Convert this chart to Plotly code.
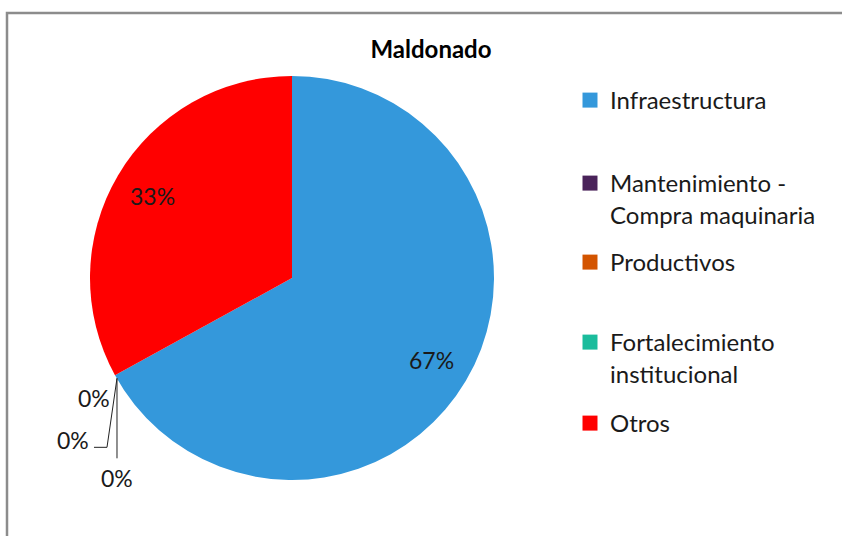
import math
import plotly.graph_objects as go

# --- datos del gráfico ---
TITULO = "Maldonado"
categorias = ["Infraestructura", "Mantenimiento -<br>Compra maquinaria", "Productivos",
              "Fortalecimiento<br>institucional", "Otros"]
valores = [67, 0, 0, 0, 33]  # porcentaje
colores = ["#3498DB", "#4A235A", "#D35400", "#1ABC9C", "#FF0000"]

W, H = 842, 536
CX, CY, R = 292, 278, 202   # centro y radio del pastel en píxeles
FUENTE = "Lato"
COLOR_TEXTO = "#1a1a1a"
# posición (px) de la primera línea de cada entrada de la leyenda, como en Excel
LEYENDA_Y = [100, 183, 262, 342, 423]

total = sum(valores)


def px(x, y):
    """píxel -> coordenadas paper"""
    return x / W, 1 - y / H


def punto(frac, t):
    """punto sobre el pastel para una fracción acumulada y un radio relativo"""
    a = 2 * math.pi * frac
    return CX + t * R * math.sin(a), CY - t * R * math.cos(a)


fig = go.Figure()
fig.add_trace(go.Pie(
    labels=[c.replace("<br>", " ") for c in categorias],
    values=valores,
    textinfo="none",
    marker=dict(colors=colores, line=dict(width=0)),
    sort=False,
    direction="clockwise",
    rotation=0,
    showlegend=False,
    hovertemplate="%{label}: %{value}%<extra></extra>",
    domain=dict(x=[(CX - R) / W, (CX + R) / W], y=[(H - CY - R) / H, (H - CY + R) / H]),
))

# leyenda: una entrada por categoría, cada una en su propia leyenda para fijar su altura
leyendas = {}
for i, (c, col, ly) in enumerate(zip(categorias, colores, LEYENDA_Y)):
    nombre = "legend" if i == 0 else f"legend{i + 1}"
    fig.add_trace(go.Scatter(
        x=[None], y=[None], mode="markers", name=c,
        marker=dict(symbol="square", size=15, color=col),
        legend=nombre, hoverinfo="skip",
    ))
    leyendas[nombre] = dict(
        x=570 / W, y=px(0, ly - 22)[1], xanchor="left", yanchor="top",
        valign="top", font=dict(family=FUENTE, size=24, color=COLOR_TEXTO),
        bgcolor="rgba(0,0,0,0)",
    )

annotations = []
# etiquetas de porcentaje dentro de cada porción
acum = 0
for v in valores:
    if v:
        x, y = punto((acum + v / 2) / total, 0.8)
        xp, yp = px(x, y)
        annotations.append(dict(
            text=f"{round(v / total * 100)}%", x=xp, y=yp, xref="paper", yref="paper",
            xanchor="center", yanchor="middle", showarrow=False,
            font=dict(family=FUENTE, size=23, color=COLOR_TEXTO),
        ))
    acum += v

# etiquetas de 0% en el borde entre Infraestructura y Otros
ex, ey = punto(sum(valores[:4]) / total, 1.0)
ceros = [v for v in valores if v == 0]
pos_ceros = [(ex - 3, ey + 23, "right"), (ex - 24, ey + 65, "right"), (ex + 2, ey + 103, "center")]
for v, (x, y, anc) in zip(ceros, pos_ceros):
    xp, yp = px(x, y)
    annotations.append(dict(
        text=f"{v}%", x=xp, y=yp, xref="paper", yref="paper",
        xanchor=anc, yanchor="middle", showarrow=False,
        font=dict(family=FUENTE, size=23, color=COLOR_TEXTO),
    ))

shapes = [
    # marco del área del gráfico
    dict(type="rect", xref="paper", yref="paper",
         x0=7 / W, x1=1.02, y0=-0.02, y1=1 - 13 / H,
         line=dict(color="#8c8c8c", width=2.5), fillcolor="rgba(0,0,0,0)"),
    # líneas guía de las etiquetas de 0%
    dict(type="path", xref="paper", yref="paper",
         path="M {} {} L {} {} L {} {}".format(
             *px(ex + 2, ey + 3), *px(ex - 8, ey + 72), *px(ex - 21, ey + 72)),
         line=dict(color="#222", width=1)),
    dict(type="line", xref="paper", yref="paper",
         x0=px(ex + 2, ey + 3)[0], y0=px(ex + 2, ey + 3)[1],
         x1=px(ex + 2, ey + 83)[0], y1=px(ex + 2, ey + 83)[1],
         line=dict(color="#222", width=1)),
]

fig.update_layout(
    width=W, height=H,
    margin=dict(l=0, r=0, t=0, b=0),
    paper_bgcolor="white",
    plot_bgcolor="white",
    title=dict(text=f"<b>{TITULO}</b>", x=431 / W, y=1 - 50 / H, xanchor="center", yanchor="middle",
               font=dict(family=FUENTE, size=24, color="#000")),
    font=dict(family=FUENTE, color=COLOR_TEXTO),
    xaxis=dict(visible=False),
    yaxis=dict(visible=False),
    shapes=shapes,
    annotations=annotations,
    **leyendas,
)

fig.write_html("out.html", config={"displayModeBar": False},
               post_script="document.body.style.margin='0';")
